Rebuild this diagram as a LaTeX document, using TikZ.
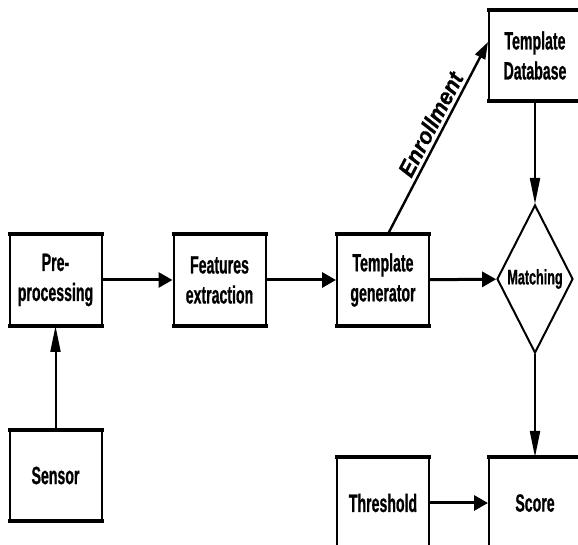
\documentclass[tikz,border=0pt]{standalone}
\usepackage{fontspec}
\setmainfont{Liberation Sans}[FakeStretch=0.565, BoldFeatures={FakeBold=0.7}]
\newfontfamily\matchfont{Liberation Sans}[FakeStretch=0.6, BoldFeatures={FakeBold=0.7}]
\newfontfamily\lblfont{Liberation Sans}[FakeStretch=0.95, BoldItalicFeatures={FakeBold=0.6}]
\usetikzlibrary{arrows.meta,shapes.geometric}
\tikzset{
  blk/.style={draw, line width=2pt, minimum width=92pt, minimum height=90pt, inner sep=0pt, align=center,
    font=\fontsize{25}{30}\selectfont\bfseries},
  dmd/.style={draw, diamond, line width=2pt, minimum width=76pt, minimum height=148pt, inner sep=0pt, aspect=0.5,
    font=\fontsize{21}{24}\matchfont\bfseries},
  hconn/.style={line width=3pt, -{Triangle[length=14pt,width=15pt]}},
  vconn/.style={line width=2pt, -{Triangle[length=26pt,width=10pt]}},
  dconn/.style={line width=2.4pt, -{Triangle[length=17pt,width=11pt]}},
  edge/.style={line width=3.6pt},
  lbl/.style={font=\fontsize{23}{24}\lblfont\bfseries\itshape}
}
\begin{document}
\begin{tikzpicture}[x=1pt,y=1pt]
\clip (0,0) rectangle (578,545);
\fill[white] (0,0) rectangle (578,545);
\node[blk] (pre) at (55.5,265) {Pre-\\processing};
\node[blk] (feat) at (219.5,265) {Features\\extraction};
\node[blk] (tg) at (383,265) {Template\\generator};
\node[dmd] (match) at (535,266) {Matching};
\node[blk, minimum height=89pt] (db) at (535,489.5) {Template\\Database};
\node[blk, minimum height=89pt] (sensor) at (55.5,69.5) {Sensor};
\node[blk] (thr) at (383,42) {Threshold};
\node[blk] (score) at (535,42) {Score};
\foreach \n in {pre,feat,tg,db,sensor,thr,score}{
  \draw[edge, shorten <=-1pt, shorten >=-1pt] (\n.north west) -- (\n.north east);
  \draw[edge, shorten <=-1pt, shorten >=-1pt] (\n.south west) -- (\n.south east);
}
\draw[vconn] (sensor) -- (pre);
\draw[hconn] (pre) -- (feat);
\draw[hconn] (feat) -- (tg);
\draw[hconn] (tg) -- (match);
\draw[dconn] ([xshift=5pt]tg.north) -- node[lbl, pos=0.54, sloped, above=0pt] {Enrollment} ([yshift=13.5pt]db.west);
\draw[vconn] (db) -- (match);
\draw[vconn] (match) -- (score);
\draw[hconn] (thr) -- (score);
\end{tikzpicture}
\end{document}
